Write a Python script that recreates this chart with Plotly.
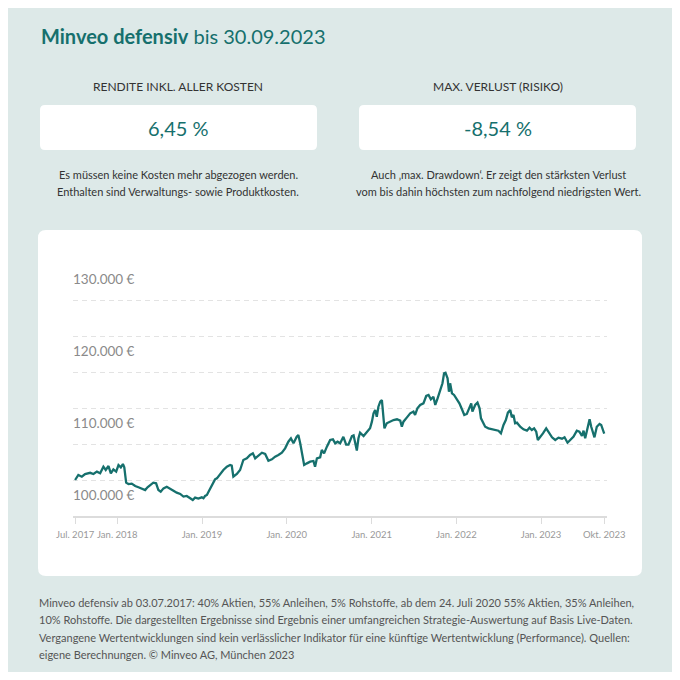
"""Minveo defensiv performance card, rebuilt with Plotly."""

import plotly.graph_objects as go

# --- data ---
dates = [
    "2017-07-03", "2017-07-10", "2017-07-17", "2017-08-01", "2017-08-15", "2017-09-06",
    "2017-09-20", "2017-10-05", "2017-10-19", "2017-11-02", "2017-11-12", "2017-11-24",
    "2017-12-04", "2017-12-15", "2017-12-27", "2018-01-06", "2018-01-16", "2018-01-25",
    "2018-01-31", "2018-02-08", "2018-02-18", "2018-03-04", "2018-03-19", "2018-04-02",
    "2018-04-16", "2018-05-01", "2018-05-11", "2018-05-22", "2018-06-05", "2018-06-17",
    "2018-06-27", "2018-07-07", "2018-07-19", "2018-08-02", "2018-08-16", "2018-08-31",
    "2018-09-14", "2018-09-29", "2018-10-13", "2018-10-27", "2018-11-11", "2018-11-22",
    "2018-12-02", "2018-12-16", "2018-12-31", "2019-01-07", "2019-01-14", "2019-01-22",
    "2019-01-29", "2019-02-05", "2019-02-12", "2019-02-19", "2019-02-26", "2019-03-06",
    "2019-03-20", "2019-04-03", "2019-04-18", "2019-05-02", "2019-05-09", "2019-05-16",
    "2019-05-31", "2019-06-14", "2019-06-28", "2019-07-13", "2019-07-27", "2019-08-08",
    "2019-08-18", "2019-09-01", "2019-09-16", "2019-09-30", "2019-10-14", "2019-10-29",
    "2019-11-12", "2019-11-26", "2019-12-11", "2019-12-25", "2020-01-08", "2020-01-19",
    "2020-01-30", "2020-02-13", "2020-02-20", "2020-02-28", "2020-03-06", "2020-03-16",
    "2020-03-28", "2020-04-11", "2020-04-25", "2020-05-02", "2020-05-10", "2020-05-24",
    "2020-05-31", "2020-06-10", "2020-06-22", "2020-07-06", "2020-07-18", "2020-07-28",
    "2020-08-07", "2020-08-18", "2020-09-01", "2020-09-13", "2020-09-23", "2020-10-08",
    "2020-10-15", "2020-10-22", "2020-10-29", "2020-11-05", "2020-11-12", "2020-11-27",
    "2020-12-11", "2020-12-25", "2021-01-02", "2021-01-09", "2021-01-16", "2021-01-23",
    "2021-01-30", "2021-02-07", "2021-02-14", "2021-02-18", "2021-02-25", "2021-03-07",
    "2021-03-22", "2021-04-05", "2021-04-20", "2021-05-04", "2021-05-11", "2021-05-18",
    "2021-06-02", "2021-06-16", "2021-06-30", "2021-07-07", "2021-07-17", "2021-07-29",
    "2021-08-12", "2021-08-24", "2021-09-03", "2021-09-13", "2021-09-24", "2021-10-02",
    "2021-10-12", "2021-10-23", "2021-11-02", "2021-11-09", "2021-11-15", "2021-11-24",
    "2021-11-30", "2021-12-05", "2021-12-13", "2021-12-22", "2022-01-03", "2022-01-14",
    "2022-01-25", "2022-02-04", "2022-02-15", "2022-02-26", "2022-03-06", "2022-03-11",
    "2022-03-23", "2022-04-02", "2022-04-11", "2022-04-17", "2022-04-25", "2022-05-05",
    "2022-05-19", "2022-06-03", "2022-06-17", "2022-07-01", "2022-07-12", "2022-07-23",
    "2022-08-02", "2022-08-11", "2022-08-21", "2022-08-28", "2022-09-04", "2022-09-11",
    "2022-09-19", "2022-10-03", "2022-10-17", "2022-11-01", "2022-11-12", "2022-11-22",
    "2022-12-02", "2022-12-11", "2022-12-18", "2022-12-28", "2023-01-09", "2023-01-23",
    "2023-02-02", "2023-02-17", "2023-03-03", "2023-03-17", "2023-04-01", "2023-04-12",
    "2023-04-25", "2023-05-06", "2023-05-21", "2023-06-04", "2023-06-15", "2023-06-26",
    "2023-07-03", "2023-07-10", "2023-07-20", "2023-07-29", "2023-08-05", "2023-08-12",
    "2023-08-19", "2023-08-29", "2023-09-10", "2023-09-17", "2023-09-24", "2023-09-30",
]
values = [
    100000, 100460, 100700, 100460, 100830, 101000,
    100830, 101160, 100930, 101850, 101390, 101940,
    100930, 101480, 101160, 102080, 101760, 102220,
    101760, 99630, 99440, 99500, 99170, 98990,
    98840, 98610, 98990, 99310, 99630, 99540,
    98610, 98380, 98840, 99070, 98840, 98520,
    98240, 98060, 97690, 97780, 97460, 97220,
    97550, 97410, 97590, 97460, 97780, 97920,
    98380, 98840, 99310, 99770, 100090, 100230,
    100830, 101390, 101850, 102080, 102000, 100460,
    100830, 101390, 102780, 103010, 103470, 103700,
    103010, 103330, 103790, 103610, 102680, 102870,
    103240, 103470, 103790, 104400, 105320, 105790,
    105100, 106020, 106250, 105100, 103700, 102080,
    102310, 102540, 102640, 101850, 103010, 103150,
    104170, 103700, 104630, 105560, 105650, 105100,
    105320, 105100, 106000, 104900, 104900, 106100,
    106200, 105100, 104100, 105800, 106570, 106110,
    106710, 107180, 108100, 109260, 109720, 108790,
    110180, 110880, 111110, 109260, 107180, 107870,
    108100, 108330, 108430, 108240, 107400, 108100,
    108700, 109260, 109490, 109030, 109960, 110420,
    110650, 111670, 111810, 111210, 111570, 110420,
    111350, 112400, 113430, 114810, 114900, 114120,
    112260, 113430, 112040, 111810, 111210, 110650,
    109820, 109030, 109170, 110180, 110650, 109490,
    110420, 110740, 109960, 108560, 108100, 107400,
    107180, 107080, 107040, 106850, 106480, 107640,
    108330, 109350, 109720, 108700, 109030, 107870,
    107960, 107400, 107040, 106850, 107270, 106940,
    107180, 106710, 105560, 105930, 106480, 107180,
    106710, 105930, 105560, 105880, 105740, 105930,
    105180, 105560, 106020, 106850, 106710, 106110,
    106850, 105790, 107180, 108430, 107400, 106710,
    105930, 107400, 107780, 107640, 107040, 106450,
]

x_tick_vals = ["2017-07-03", "2018-01-01", "2019-01-01", "2020-01-01",
               "2021-01-01", "2022-01-01", "2023-01-01", "2023-09-30"]
x_tick_text = ["Jul. 2017", "Jan. 2018", "Jan. 2019", "Jan. 2020",
               "Jan. 2021", "Jan. 2022", "Jan. 2023", "Okt. 2023"]
y_grid_vals = [100000, 105000, 110000, 115000, 120000, 125000, 130000]
y_label_vals = [100000, 110000, 120000, 130000]
y_label_text = ["100.000 €", "110.000 €", "120.000 €", "130.000 €"]

kpi_labels = ["RENDITE INKL. ALLER KOSTEN", "MAX. VERLUST (RISIKO)"]
kpi_values = ["6,45 %", "-8,54 %"]
kpi_notes = [
    ["Es müssen keine Kosten mehr abgezogen werden.",
     "Enthalten sind Verwaltungs- sowie Produktkosten."],
    ["Auch ‚max. Drawdown‘. Er zeigt den stärksten Verlust",
     "vom bis dahin höchsten zum nachfolgend niedrigsten Wert."],
]
footer_lines = [
    "Minveo defensiv ab 03.07.2017: 40% Aktien, 55% Anleihen, 5% Rohstoffe, ab dem 24. Juli 2020 55% Aktien, 35% Anleihen,",
    "10% Rohstoffe. Die dargestellten Ergebnisse sind Ergebnis einer umfangreichen Strategie-Auswertung auf Basis Live-Daten.",
    "Vergangene Wertentwicklungen sind kein verlässlicher Indikator für eine künftige Wertentwicklung (Performance). Quellen:",
    "eigene Berechnungen. © Minveo AG, München 2023",
]

# page has an 8px body margin, so the figure starts at (8, 8) on screen
OFF = 8
W, H = 672, 664
TEAL = "#16706d"
BG = "#dde9e8"
FONT = "Lato"
X_RANGE = ["2017-06-24", "2023-10-12"]
Y_RANGE = [95000, 130000]


def px(x):
    return (x - OFF) / W


def py(y):
    return 1 - (y - OFF) / H


def rounded_box(x0, y0, x1, y1, r):
    """SVG path for a rounded rectangle, screen pixels -> paper coords."""
    rx, ry = r / W, r / H
    a, b, c, d = px(x0), px(x1), py(y0), py(y1)
    return (f"M{a + rx:.5f},{c:.5f} L{b - rx:.5f},{c:.5f} Q{b:.5f},{c:.5f} {b:.5f},{c - ry:.5f} "
            f"L{b:.5f},{d + ry:.5f} Q{b:.5f},{d:.5f} {b - rx:.5f},{d:.5f} "
            f"L{a + rx:.5f},{d:.5f} Q{a:.5f},{d:.5f} {a:.5f},{d + ry:.5f} "
            f"L{a:.5f},{c - ry:.5f} Q{a:.5f},{c:.5f} {a + rx:.5f},{c:.5f} Z")


fig = go.Figure()

fig.add_trace(go.Scatter(
    x=dates, y=values, mode="lines",
    line=dict(color=TEAL, width=2.3),
    showlegend=False, hoverinfo="skip",
))
# empty trace so the label-only axis pair (x2/y2) gets drawn
fig.add_trace(go.Scatter(x=[], y=[], xaxis="x2", yaxis="y2", showlegend=False))

shapes = [
    dict(type="path", path=rounded_box(40, 105, 317, 150, 5), xref="paper", yref="paper",
         fillcolor="white", line=dict(width=0), layer="below"),
    dict(type="path", path=rounded_box(359, 105, 636, 150, 5), xref="paper", yref="paper",
         fillcolor="white", line=dict(width=0), layer="below"),
    dict(type="path", path=rounded_box(38, 230, 642, 576, 8), xref="paper", yref="paper",
         fillcolor="white", line=dict(width=0), layer="below"),
]

annotations = [
    dict(text="<b>Minveo defensiv</b> bis 30.09.2023", x=px(39), y=py(36),
         xanchor="left", yanchor="middle", font=dict(size=20, color=TEAL)),
]

centers = [178, 498]
for cx, lab, val, notes in zip(centers, kpi_labels, kpi_values, kpi_notes):
    annotations.append(dict(text=lab, x=px(cx), y=py(86), xanchor="center", yanchor="middle",
                            font=dict(size=12, color="#333333")))
    annotations.append(dict(text=val, x=px(cx), y=py(128), xanchor="center", yanchor="middle",
                            font=dict(size=20, color=TEAL)))
    for i, note in enumerate(notes):
        annotations.append(dict(text=note, x=px(cx), y=py(174 + 17 * i), xanchor="center",
                                yanchor="middle", font=dict(size=11, color="#333333")))

for i, line in enumerate(footer_lines):
    annotations.append(dict(text=line, x=px(37), y=py(602 + 17.5 * i), xanchor="left",
                            yanchor="middle", font=dict(size=11, color="#555555")))

for a in annotations:
    a.update(xref="paper", yref="paper", showarrow=False)

x_domain = [px(73), px(607)]
y_domain = [py(516), py(264)]

fig.update_layout(
    width=W, height=H, autosize=False,
    margin=dict(l=0, r=0, t=0, b=0, pad=0, autoexpand=False),
    paper_bgcolor=BG, plot_bgcolor="rgba(0,0,0,0)",
    font=dict(family=FONT),
    shapes=shapes, annotations=annotations,
    xaxis=dict(
        domain=x_domain, range=X_RANGE,
        tickvals=x_tick_vals, ticktext=x_tick_text, tickangle=0,
        ticklabeloverflow="allow",
        showgrid=False, zeroline=False, automargin=False,
        showline=True, linecolor="#dcdcdc", linewidth=1.5,
        ticks="outside", ticklen=6, tickcolor="#dcdcdc", ticklabelstandoff=3,
        tickfont=dict(size=9.5, color="#999999"),
    ),
    yaxis=dict(
        domain=y_domain, range=Y_RANGE,
        tickvals=y_grid_vals, showticklabels=False,
        showgrid=True, gridcolor="#e3e3e3", griddash="5px,4px", gridwidth=1,
        zeroline=False, showline=False, ticks="", automargin=False,
    ),
    # label-only axes: keeps the inside y labels from hiding the first x labels
    xaxis2=dict(
        domain=x_domain, range=X_RANGE, anchor="y2", visible=False,
    ),
    yaxis2=dict(
        domain=y_domain, range=Y_RANGE, anchor="x2",
        tickvals=y_label_vals, ticktext=y_label_text,
        showgrid=False, zeroline=False, showline=False, ticks="", automargin=False,
        ticklabelposition="inside", ticklabelshift=15, ticklabelstandoff=-3,
        tickfont=dict(size=13.5, color="#8a8a8a"),
    ),
)

fig.write_html("out.html")
